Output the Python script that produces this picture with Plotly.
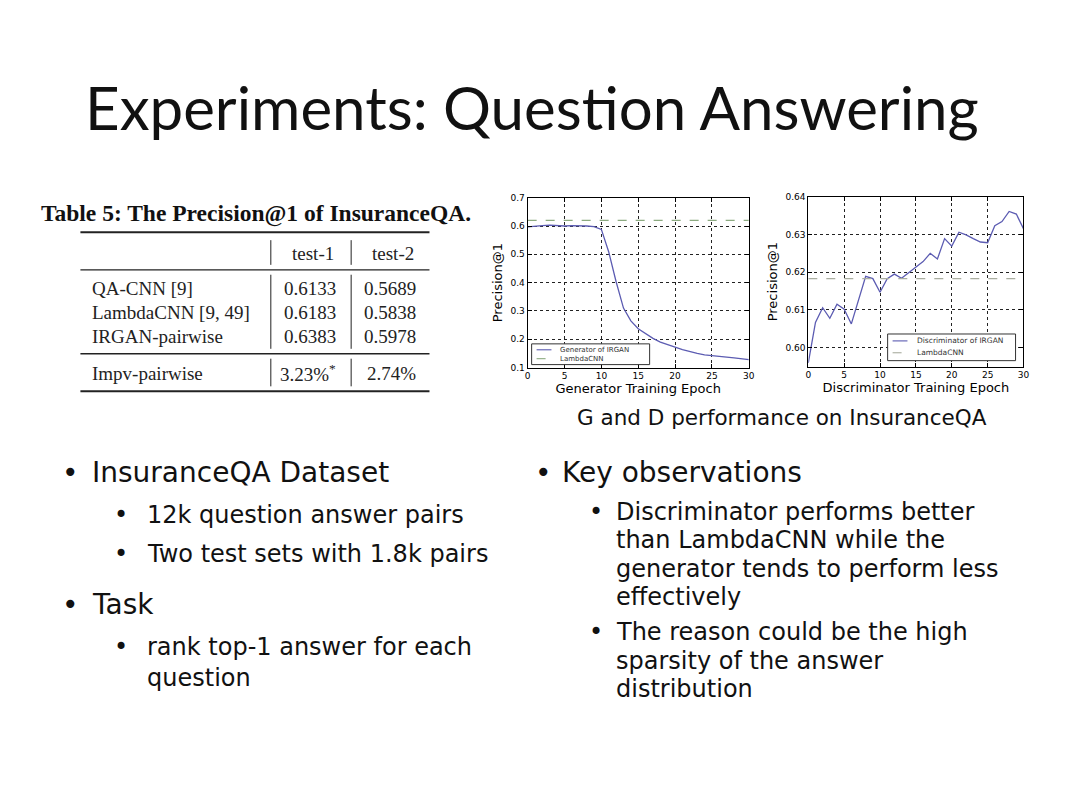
import plotly.graph_objects as go

W, H = 1080, 810

# ---------------- data ----------------
epochs = list(range(31))
gen_precision = [0.597, 0.598, 0.601, 0.603, 0.601, 0.600, 0.601, 0.601, 0.600, 0.598,
                 0.588, 0.508, 0.403, 0.310, 0.265, 0.237, 0.220, 0.203, 0.190, 0.180,
                 0.172, 0.163, 0.156, 0.150, 0.145, 0.143, 0.141, 0.137, 0.134, 0.131, 0.128]
dis_precision = [0.5960, 0.6067, 0.6106, 0.6078, 0.6115, 0.6102, 0.6063, 0.6124, 0.6189, 0.6183,
                 0.6147, 0.6183, 0.6195, 0.6184, 0.6199, 0.6215, 0.6228, 0.6250, 0.6235, 0.6289,
                 0.6269, 0.6306, 0.6299, 0.6289, 0.6280, 0.6278, 0.6323, 0.6334, 0.6361, 0.6354, 0.6315]
lambda_gen = 0.620
lambda_dis = 0.6183

table_title = "Table 5: The Precision@1 of InsuranceQA."
table_cols = ["test-1", "test-2"]
table_rows = ["QA-CNN [9]", "LambdaCNN [9, 49]", "IRGAN-pairwise"]
table_test1 = ["0.6133", "0.6183", "0.6383"]
table_test2 = ["0.5689", "0.5838", "0.5978"]
impv_label = "Impv-pairwise"
impv_values = ["3.23%*", "2.74%"]

slide_title = "Experiments: Question Answering"
caption = "G and D performance on InsuranceQA"
legend1_names = ["Generator of IRGAN", "LambdaCNN"]
legend2_names = ["Discriminator of IRGAN", "LambdaCNN"]
left_bullets = [(0, "InsuranceQA Dataset"), (1, "12k question answer pairs"),
                (1, "Two test sets with 1.8k pairs"), (0, "Task"),
                (1, "rank top-1 answer for each"), (2, "question")]
right_bullets = [(0, "Key observations"), (1, "Discriminator performs better"),
                 (2, "than LambdaCNN while the"), (2, "generator tends to perform less"),
                 (2, "effectively"), (1, "The reason could be the high"),
                 (2, "sparsity of the answer"), (2, "distribution")]

# ---------------- helpers ----------------
OFF = 8  # page body margin


def px(x):
    return (x - OFF) / W


def py(y):
    return 1 - (y - OFF) / H


LINE_COL = "#5c5cb2"
DASH1 = "#8caa80"
DASH2 = "#a9ad9f"
TITLE_FONT = "Lato, 'Open Sans', sans-serif"
BODY = "'DejaVu Sans', sans-serif"
SERIF = "'Liberation Serif', 'DejaVu Serif', serif"
MPL = "'DejaVu Sans', sans-serif"

fig = go.Figure()

fig.add_trace(go.Scatter(x=epochs, y=gen_precision, mode="lines", name=legend1_names[0],
                         line=dict(color=LINE_COL, width=1.3), xaxis="x", yaxis="y"))
fig.add_trace(go.Scatter(x=[0, 30], y=[lambda_gen, lambda_gen], mode="lines", name=legend1_names[1],
                         line=dict(color=DASH1, width=1.1, dash="dash"), xaxis="x", yaxis="y"))
fig.add_trace(go.Scatter(x=epochs, y=dis_precision, mode="lines", name=legend2_names[0],
                         line=dict(color=LINE_COL, width=1.3), xaxis="x2", yaxis="y2"))
fig.add_trace(go.Scatter(x=[0, 30], y=[lambda_dis, lambda_dis], mode="lines", name=legend2_names[1],
                         line=dict(color=DASH2, width=1.1, dash="dash"), xaxis="x2", yaxis="y2"))

axis_common = dict(showline=True, linecolor="black", linewidth=1, mirror="ticks", ticks="inside",
                   ticklen=4, tickcolor="black", showgrid=True, gridcolor="#222", griddash="dot",
                   gridwidth=0.7, zeroline=False, tickfont=dict(family=MPL, size=9, color="black"))
TITLEF = dict(family=MPL, size=13, color="black")

fig.update_layout(
    width=W, height=H,
    margin=dict(l=0, r=0, t=0, b=0),
    paper_bgcolor="white", plot_bgcolor="white",
    showlegend=False,
    xaxis=dict(domain=[px(529), px(752)], range=[0, 30], tickvals=[0, 5, 10, 15, 20, 25, 30],
               anchor="y", title=dict(text="Generator Training Epoch", standoff=2, font=TITLEF),
               **axis_common),
    yaxis=dict(domain=[py(367), py(195)], range=[0.1, 0.7],
               tickvals=[0.1, 0.2, 0.3, 0.4, 0.5, 0.6, 0.7], tickformat=".1f",
               anchor="x", title=dict(text="Precision@1", standoff=4, font=TITLEF), **axis_common),
    xaxis2=dict(domain=[px(812), px(1029)], range=[0, 30], tickvals=[0, 5, 10, 15, 20, 25, 30],
                anchor="y2", title=dict(text="Discriminator Training Epoch", standoff=2, font=TITLEF),
                **axis_common),
    yaxis2=dict(domain=[py(366), py(194)], range=[0.595, 0.64],
                tickvals=[0.60, 0.61, 0.62, 0.63, 0.64], tickformat=".2f",
                anchor="x2", title=dict(text="Precision@1", standoff=4, font=TITLEF), **axis_common),
)

annotations = []
shapes = []


def note(x, y, text, font, xanchor="left"):
    annotations.append(dict(x=px(x), y=py(y), xref="paper", yref="paper", text=text,
                            showarrow=False, xanchor=xanchor, yanchor="middle", font=font))


def seg(x0, y0, x1, y1, color, width=1, dash="solid"):
    shapes.append(dict(type="line", xref="paper", yref="paper", x0=px(x0), x1=px(x1),
                       y0=py(y0), y1=py(y1), line=dict(color=color, width=width, dash=dash)))


# legends (drawn as boxes inside the plot areas)
def legend_box(x0, y0, x1, y1, names, colors, dashes, ys, sx0, sx1, tx, fsize):
    shapes.append(dict(type="rect", xref="paper", yref="paper", x0=px(x0), x1=px(x1),
                       y0=py(y1), y1=py(y0), line=dict(color="#333", width=1), fillcolor="white"))
    for nm, c, d, yy in zip(names, colors, dashes, ys):
        seg(sx0, yy, sx1, yy, c, 1.1, d)
        note(tx, yy, nm, dict(family=MPL, size=fsize, color="#333"))


legend_box(533, 343, 652, 364, legend1_names, [LINE_COL, DASH1], ["solid", "dash"],
           [349, 358], 538, 553, 560, 7)
legend_box(892, 333, 1021, 360, legend2_names, [LINE_COL, DASH2], ["solid", "dash"],
           [340, 352], 897, 912, 920, 7.5)

# slide title
note(533, 103, slide_title, dict(family=TITLE_FONT, size=60, color="#111"), "center")
# caption
note(785, 418, caption, dict(family=BODY, size=21.5, color="#111"), "center")

BIG = dict(family=BODY, size=28, color="#111")
SMALL = dict(family=BODY, size=24, color="#111")


def add_bullets(items, x0, ys, dot_x, sub_dot_x, sub_x):
    for (lvl, txt), yy in zip(items, ys):
        if lvl == 0:
            note(dot_x, yy, "•", BIG, "center")
            note(x0, yy, txt, BIG)
        else:
            if lvl == 1:
                note(sub_dot_x, yy, "•", SMALL, "center")
            note(sub_x, yy, txt, SMALL)


add_bullets(left_bullets, 88, [473, 516, 556, 607, 650, 681], 68, 119, 143)
add_bullets(right_bullets, 562, [473, 513, 542, 571, 599, 635, 664, 692], 545, 598, 616)

# table
note(36, 211, "<b>" + table_title + "</b>", dict(family=SERIF, size=23.5, color="#111"))
TF = dict(family=SERIF, size=19, color="#222")
note(313, 251, table_cols[0], TF, "center")
note(393, 251, table_cols[1], TF, "center")
for i, (lab, v1, v2) in enumerate(zip(table_rows, table_test1, table_test2)):
    yy = 287 + i * 24.5
    note(88, yy, lab, TF)
    note(338, yy, v1, TF, "right")
    note(418, yy, v2, TF, "right")
note(88, 373, impv_label, TF)
note(338, 373, impv_values[0].replace("*", "<sup>*</sup>"), TF, "right")
note(418, 373, impv_values[1], TF, "right")

for yy, w in ((230, 2), (268, 1.3), (353, 1.3), (391, 2)):
    seg(78, yy, 430, yy, "#222", w)
for xx in (270, 351):
    seg(xx, 238, xx, 263, "#222")
    seg(xx, 273, xx, 348, "#222")
    seg(xx, 358, xx, 386, "#222")

fig.update_layout(annotations=annotations, shapes=shapes)

fig.write_html("out.html")
